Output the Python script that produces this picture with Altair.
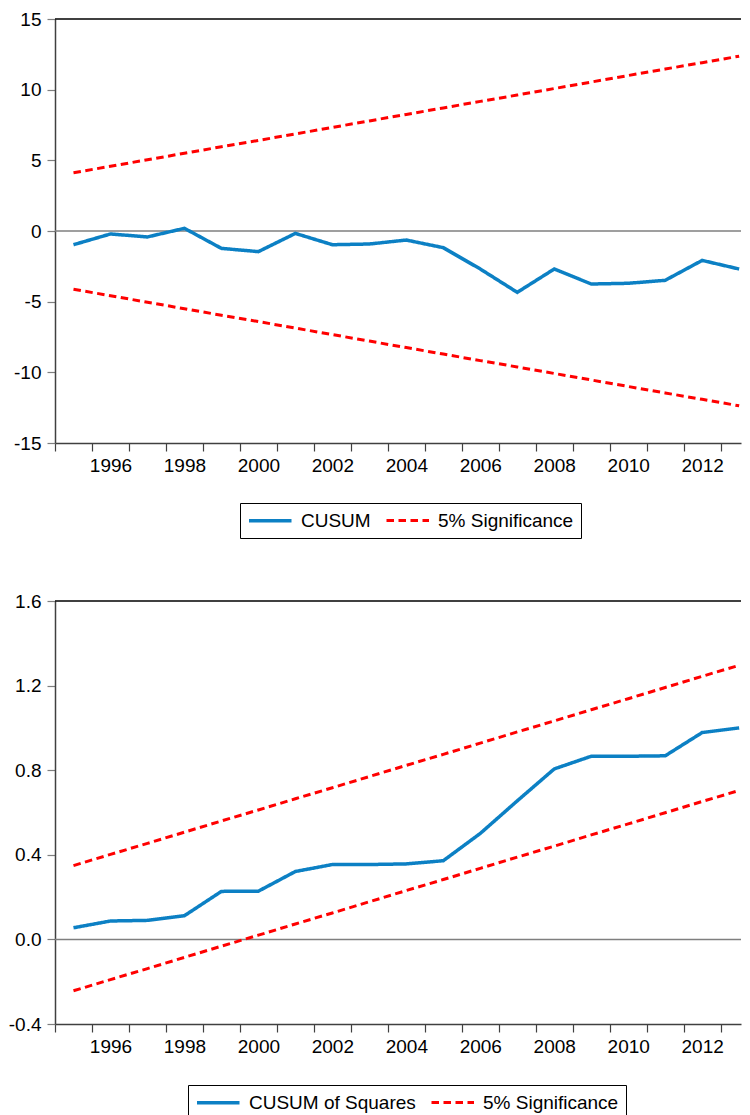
import altair as alt
import pandas as pd

years = list(range(1995, 2014))

cusum = [-0.97, -0.21, -0.42, 0.19, -1.23, -1.46, -0.17, -0.97, -0.92, -0.64,
         -1.18, -2.69, -4.34, -2.69, -3.75, -3.70, -3.49, -2.08, -2.69]
cusum_upper = [4.12, 4.58, 5.04, 5.50, 5.96, 6.41, 6.87, 7.33, 7.79, 8.25,
               8.71, 9.17, 9.62, 10.08, 10.54, 11.00, 11.46, 11.91, 12.37]
cusum_lower = [-4.12, -4.58, -5.04, -5.50, -5.96, -6.41, -6.87, -7.33, -7.79, -8.25,
               -8.71, -9.17, -9.62, -10.08, -10.54, -11.00, -11.46, -11.91, -12.37]

cusumsq = [0.055, 0.087, 0.090, 0.112, 0.227, 0.228, 0.321, 0.354, 0.354, 0.357,
           0.372, 0.501, 0.655, 0.806, 0.866, 0.866, 0.868, 0.978, 1.000]
sq_upper = [0.349, 0.402, 0.454, 0.507, 0.560, 0.612, 0.665, 0.717, 0.770, 0.823,
            0.875, 0.928, 0.981, 1.033, 1.086, 1.138, 1.191, 1.244, 1.296]
sq_lower = [-0.243, -0.190, -0.138, -0.085, -0.032, 0.020, 0.073, 0.125, 0.178, 0.231,
            0.283, 0.336, 0.389, 0.441, 0.494, 0.546, 0.599, 0.652, 0.704]

top_ticks = [-15, -10, -5, 0, 5, 10, 15]
bottom_ticks = [-0.4, 0.0, 0.4, 0.8, 1.2, 1.6]
x_tick_values = [y - 0.5 for y in years]

BLUE = "#0c80c4"
RED = "#ff0000"
FONT = "Liberation Sans"
W = 686
X_DOMAIN = [1994.5, 2013.05]
PX_PER_YEAR = W / (X_DOMAIN[1] - X_DOMAIN[0])


def long_frame(main_name, main, upper, lower):
    rows = []
    for yr, v in zip(years, main):
        rows.append({"year": yr, "value": v, "series": main_name, "band": "main"})
    for yr, v in zip(years, upper):
        rows.append({"year": yr, "value": v, "series": "5% Significance", "band": "upper"})
    for yr, v in zip(years, lower):
        rows.append({"year": yr, "value": v, "series": "5% Significance", "band": "lower"})
    return pd.DataFrame(rows)


def panel(main_name, main, upper, lower, ydomain, yticks, ylabel_expr, legend_x, legend_y, height):
    df = long_frame(main_name, main, upper, lower)
    xaxis = alt.Axis(
        values=x_tick_values,
        labelExpr="(datum.value + 0.5) % 2 == 0 ? format(datum.value + 0.5, 'd') : ''",
        labelOffset=PX_PER_YEAR / 2,
        labelOverlap=False,
        labelFlush=False,
        tickSize=8,
        labelPadding=5,
        title=None,
        grid=False,
    )
    yaxis = alt.Axis(
        values=yticks,
        labelExpr=ylabel_expr,
        tickSize=8,
        labelPadding=6,
        title=None,
        grid=False,
        tickColor="#7f7f7f",
    )
    x = alt.X("year:Q", scale=alt.Scale(domain=X_DOMAIN, nice=False, zero=False), axis=xaxis)
    y = alt.Y("value:Q", scale=alt.Scale(domain=ydomain, nice=False, zero=False), axis=yaxis)
    legend = alt.Legend(
        orient="none", legendX=legend_x, legendY=legend_y, direction="horizontal",
        title=None, symbolType="M-1,0L4,0", symbolSize=289, symbolStrokeWidth=3.5,
        labelFontSize=19, labelFont=FONT, labelColor="#000", labelOffset=33,
        labelLimit=400, columnPadding=9, padding=7, strokeColor="#000", fillColor="#fff",
    )
    domain_names = [main_name, "5% Significance"]
    lines = alt.Chart(df).mark_line(clip=True).encode(
        x=x,
        y=y,
        detail="band:N",
        color=alt.Color("series:N", scale=alt.Scale(domain=domain_names, range=[BLUE, RED]), legend=legend),
        strokeDash=alt.StrokeDash("series:N", scale=alt.Scale(domain=domain_names, range=[[1, 0], [7.5, 4.5]]), legend=legend),
        strokeWidth=alt.StrokeWidth("series:N", scale=alt.Scale(domain=domain_names, range=[3.5, 3]), legend=None),
    )
    zero = alt.Chart(pd.DataFrame({"value": [0]})).mark_rule(color="#7f7f7f", strokeWidth=1.5).encode(
        y=alt.Y("value:Q")
    )
    top_border = alt.Chart(pd.DataFrame({"value": [ydomain[1]]})).mark_rule(color="#000", strokeWidth=1.5).encode(
        y=alt.Y("value:Q")
    )
    return alt.layer(zero, top_border, lines).properties(width=W, height=height)


top_expr = "datum.value < 0 ? '-' + format(abs(datum.value), 'd') : format(datum.value, 'd')"
bottom_expr = "datum.value < 0 ? '-' + format(abs(datum.value), '.1f') : format(datum.value, '.1f')"

top = panel("CUSUM", cusum, cusum_upper, cusum_lower, [-15, 15], top_ticks, top_expr, 185, 484, 424)
bottom = panel("CUSUM of Squares", cusumsq, sq_upper, sq_lower, [-0.4, 1.6], bottom_ticks, bottom_expr, 133, 484, 423)

chart = alt.vconcat(top, bottom, spacing=53).resolve_scale(
    color="independent", strokeDash="independent", strokeWidth="independent"
).resolve_legend(color="independent", strokeDash="independent").properties(
    padding={"left": 0, "top": 2, "right": 0, "bottom": 0}
).configure_axis(
    labelFont=FONT, labelFontSize=19, labelColor="#000",
    domainColor="#404040", domainWidth=1.5, tickColor="#404040", tickWidth=1.2,
).configure_view(
    stroke=None
)

chart.save("out.html", embed_options={"renderer": "svg", "actions": False})
